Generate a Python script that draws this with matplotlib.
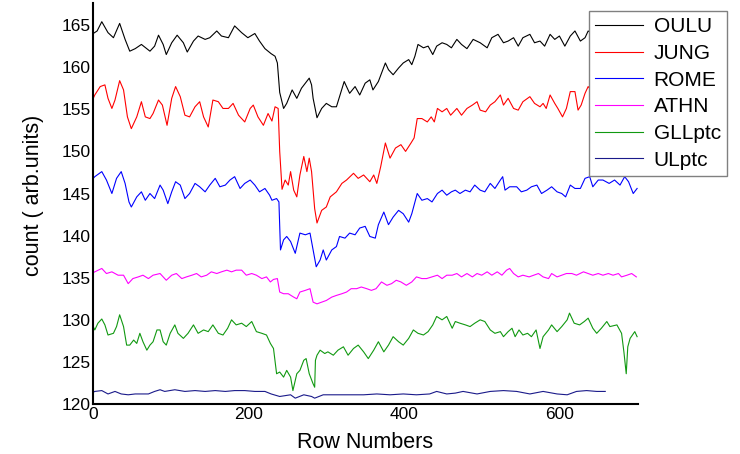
import matplotlib
matplotlib.use("Agg")
import matplotlib.pyplot as plt

plt.rcParams['font.family'] = ['Liberation Sans', 'DejaVu Sans']

# values (row number, count)
oulu_x = [0, 5, 11, 19, 26, 34, 41, 47, 54, 62, 73, 79, 84, 90, 94, 101, 108, 116, 121, 129, 135, 144, 150, 159,
          165, 174, 182, 191, 199, 208, 214, 221, 229, 234, 237, 240, 245, 249, 256, 262, 268, 278, 281, 283, 288,
          294, 300, 307, 313, 317, 323, 330, 337, 343, 350, 356, 360, 367, 376, 380, 386, 393, 399, 406, 410, 414,
          418, 425, 431, 437, 442, 449, 455, 461, 468, 474, 481, 489, 498, 507, 513, 521, 528, 534, 541, 547, 553,
          562, 568, 575, 581, 588, 594, 600, 607, 614, 620, 627, 633, 637, 645, 655, 665, 675, 685, 695, 700]
oulu_y = [164.0, 164.3, 165.4, 164.1, 163.5, 165.2, 163.3, 161.9, 162.2, 162.7, 161.9, 162.5, 163.8, 162.7, 161.5,
          162.9, 163.8, 162.9, 161.8, 163.1, 163.7, 163.3, 163.5, 164.3, 163.7, 163.5, 164.9, 164.1, 163.5, 164.0,
          163.1, 162.2, 161.6, 161.3, 160.5, 157.0, 155.1, 155.7, 157.3, 156.3, 157.5, 158.7, 157.9, 156.3, 154.0,
          155.1, 155.7, 155.3, 155.3, 156.5, 158.3, 156.9, 157.7, 156.7, 158.1, 158.5, 157.3, 158.3, 160.5, 159.7,
          159.1, 159.9, 160.5, 160.9, 160.3, 161.3, 162.7, 162.3, 162.5, 161.5, 162.5, 162.9, 162.7, 162.3, 163.3,
          162.7, 162.2, 163.3, 162.9, 162.3, 163.5, 163.9, 162.9, 163.1, 163.5, 162.5, 163.5, 163.9, 162.9, 163.1,
          162.5, 163.9, 163.3, 163.7, 162.5, 163.7, 164.3, 163.1, 163.5, 164.3, 163.8, 164.0, 163.6, 164.1, 163.8,
          164.0, 163.9]

jung_x = [0, 2, 9, 15, 19, 24, 28, 34, 39, 44, 49, 56, 62, 67, 73, 77, 84, 89, 95, 101, 106, 112, 118, 124, 131,
          137, 142, 148, 154, 161, 167, 174, 180, 187, 195, 202, 206, 212, 219, 225, 230, 234, 238, 240, 243, 247,
          251, 254, 258, 262, 266, 271, 275, 278, 281, 285, 288, 294, 300, 305, 313, 320, 326, 335, 341, 348, 356,
          361, 365, 370, 376, 382, 389, 396, 402, 409, 413, 417, 423, 430, 435, 439, 443, 449, 455, 460, 468, 474,
          481, 488, 494, 498, 505, 511, 517, 524, 528, 534, 541, 547, 553, 562, 568, 575, 579, 583, 588, 594, 598,
          604, 609, 614, 620, 624, 628, 633, 637, 645, 655, 665, 675, 685, 695, 700]
jung_y = [156.3, 156.7, 157.7, 157.9, 156.3, 155.1, 156.1, 158.4, 157.3, 154.1, 152.7, 154.1, 155.9, 154.1, 153.9,
          154.5, 156.1, 155.5, 153.1, 156.3, 157.7, 156.5, 154.3, 154.1, 155.3, 155.9, 154.1, 152.9, 156.1, 155.9,
          155.1, 155.1, 155.7, 154.3, 153.5, 155.1, 155.5, 154.1, 153.1, 154.5, 153.6, 155.3, 155.1, 150.0, 145.5,
          146.6, 146.0, 147.6, 145.4, 144.6, 147.2, 149.4, 147.6, 149.2, 147.6, 143.2, 141.5, 143.0, 143.4, 144.6,
          145.2, 146.2, 146.6, 147.4, 146.8, 147.2, 146.4, 147.2, 146.2, 148.2, 151.0, 149.2, 150.4, 150.8, 150.0,
          151.0, 151.6, 153.9, 153.9, 153.5, 154.1, 153.5, 155.1, 154.7, 155.1, 154.3, 155.1, 154.3, 155.1, 155.5,
          155.9, 154.9, 154.7, 155.5, 155.9, 156.7, 155.5, 156.3, 155.1, 154.9, 155.9, 156.5, 155.7, 155.3, 155.7,
          155.1, 156.7, 155.7, 155.1, 154.1, 155.1, 157.1, 157.1, 154.9, 155.5, 156.9, 157.7, 156.8, 157.0, 156.5,
          156.9, 156.6, 157.0, 156.8]

rome_x = [0, 2, 11, 17, 24, 30, 36, 41, 46, 49, 56, 62, 67, 73, 79, 86, 90, 96, 101, 106, 112, 118, 124, 131, 137,
          144, 150, 157, 163, 170, 176, 182, 189, 195, 202, 208, 214, 221, 227, 230, 236, 239, 241, 245, 249, 254,
          260, 266, 273, 279, 283, 287, 292, 296, 300, 307, 313, 317, 324, 330, 337, 343, 350, 356, 363, 367, 374,
          380, 386, 393, 399, 406, 410, 417, 423, 430, 436, 443, 449, 455, 461, 466, 472, 479, 485, 491, 498, 504,
          511, 517, 524, 527, 530, 536, 545, 551, 558, 564, 571, 577, 584, 590, 597, 603, 608, 614, 620, 627, 633,
          639, 643, 650, 656, 664, 671, 678, 684, 689, 695, 700]
rome_y = [146.8, 147.0, 147.6, 146.6, 145.0, 146.8, 147.6, 146.2, 144.0, 143.4, 144.6, 145.2, 144.2, 145.0, 144.4,
          146.0, 145.4, 143.8, 145.2, 146.4, 146.0, 144.4, 145.0, 146.2, 145.8, 145.2, 146.0, 146.8, 145.8, 146.0,
          146.6, 147.0, 145.6, 146.2, 146.6, 146.0, 145.2, 145.6, 144.8, 144.2, 144.4, 144.0, 138.3, 139.5, 139.9,
          139.3, 137.9, 140.3, 140.1, 140.3, 138.3, 136.3, 137.1, 138.3, 137.1, 138.3, 138.7, 139.9, 139.7, 140.3,
          140.1, 140.9, 141.1, 139.9, 139.7, 141.3, 142.8, 141.3, 142.2, 143.0, 142.6, 141.6, 142.6, 145.0, 144.2,
          144.4, 144.0, 145.0, 145.4, 144.8, 145.2, 145.4, 145.0, 145.4, 145.2, 146.0, 145.4, 145.2, 146.2, 145.6,
          146.6, 147.0, 145.4, 145.8, 145.8, 145.2, 145.4, 145.8, 146.0, 145.0, 145.4, 145.8, 145.2, 145.0, 144.6,
          146.0, 145.6, 145.6, 146.8, 147.0, 145.8, 146.6, 146.6, 146.2, 146.6, 146.0, 147.0, 146.4, 145.0, 145.6]

athn_x = [0, 2, 11, 17, 24, 32, 39, 45, 51, 58, 64, 71, 77, 86, 94, 101, 107, 114, 120, 127, 133, 139, 146, 152,
          159, 165, 172, 178, 184, 191, 197, 204, 210, 217, 223, 228, 232, 237, 240, 245, 251, 258, 262, 266, 273,
          279, 283, 288, 294, 300, 307, 313, 320, 326, 332, 339, 345, 352, 358, 364, 371, 378, 384, 390, 396, 403,
          410, 416, 423, 429, 436, 443, 449, 455, 462, 468, 474, 481, 488, 494, 500, 507, 513, 520, 526, 532, 536,
          541, 547, 553, 561, 567, 573, 579, 586, 590, 597, 603, 609, 616, 622, 631, 637, 643, 650, 656, 663, 669,
          676, 680, 687, 693, 699]
athn_y = [135.6, 135.7, 136.1, 135.5, 135.7, 135.3, 135.3, 134.3, 134.9, 135.1, 135.3, 134.9, 135.3, 135.5, 134.7,
          135.3, 135.5, 134.9, 135.1, 135.3, 135.5, 135.1, 135.3, 135.7, 135.5, 135.7, 135.9, 135.7, 135.9, 135.9,
          135.3, 135.5, 135.3, 134.9, 135.1, 134.5, 134.8, 134.9, 133.3, 133.1, 133.1, 132.7, 132.5, 133.3, 133.5,
          133.7, 132.1, 131.9, 132.1, 132.3, 132.7, 132.9, 133.1, 133.3, 133.7, 133.7, 133.9, 133.7, 133.5, 133.7,
          134.5, 134.1, 134.3, 134.7, 134.5, 134.1, 134.5, 135.1, 134.9, 134.9, 135.1, 135.3, 134.9, 135.3, 135.3,
          135.5, 135.1, 135.5, 135.1, 135.5, 135.3, 135.7, 135.3, 135.7, 135.3, 135.9, 136.1, 135.5, 135.1, 135.3,
          135.1, 135.3, 135.5, 135.1, 134.9, 135.5, 135.1, 135.3, 135.5, 135.5, 135.3, 135.7, 135.5, 135.3, 135.5,
          135.3, 135.5, 135.3, 135.5, 135.1, 135.3, 135.5, 135.1]

gll_x = [0, 2, 6, 11, 15, 19, 26, 30, 34, 39, 43, 47, 52, 56, 60, 64, 69, 73, 77, 82, 86, 90, 94, 99, 105, 109, 116,
         122, 129, 135, 142, 148, 154, 161, 167, 173, 178, 184, 191, 197, 204, 210, 217, 223, 228, 232, 236, 240,
         245, 249, 254, 257, 262, 266, 271, 274, 278, 283, 285, 286, 288, 292, 298, 302, 309, 315, 322, 328, 335,
         341, 348, 354, 361, 367, 374, 380, 386, 393, 399, 406, 412, 418, 425, 431, 437, 442, 449, 455, 462, 466,
         472, 479, 485, 491, 498, 504, 511, 517, 524, 528, 534, 539, 543, 548, 553, 559, 564, 570, 575, 579, 586,
         590, 597, 603, 610, 613, 619, 626, 632, 637, 643, 648, 654, 661, 665, 674, 680, 683, 686, 688, 691, 697,
         700]
gll_y = [129.2, 128.8, 129.6, 130.1, 129.4, 128.2, 128.4, 129.2, 130.6, 129.2, 127.0, 127.0, 127.6, 127.2, 128.4,
         127.4, 126.4, 127.0, 127.4, 128.8, 128.8, 127.4, 127.0, 128.4, 129.4, 128.4, 127.8, 128.4, 129.4, 128.4,
         128.8, 128.6, 129.4, 128.4, 128.2, 129.0, 130.0, 129.4, 129.6, 129.2, 129.8, 128.6, 128.4, 128.2, 127.2,
         126.6, 123.6, 123.8, 123.2, 124.0, 123.2, 121.6, 123.6, 124.0, 125.2, 125.4, 123.6, 122.4, 122.0, 125.2,
         125.8, 126.4, 126.0, 126.2, 125.8, 126.4, 126.8, 125.8, 126.6, 127.0, 126.2, 125.4, 126.4, 127.4, 126.2,
         127.0, 128.0, 127.4, 127.0, 127.8, 128.8, 128.4, 128.2, 128.6, 129.4, 130.4, 130.0, 130.4, 129.0, 129.8,
         129.6, 129.4, 129.2, 129.6, 130.0, 129.8, 128.8, 128.4, 128.6, 128.0, 128.6, 129.0, 128.0, 128.8, 128.2,
         128.4, 128.0, 128.8, 126.6, 128.0, 128.8, 129.4, 128.6, 129.2, 130.0, 130.8, 129.6, 129.4, 129.8, 130.2,
         129.0, 128.4, 129.0, 129.8, 129.2, 129.4, 128.4, 126.2, 123.6, 126.8, 127.8, 128.6, 128.0]

ul_x = [0, 2, 11, 19, 28, 36, 45, 54, 62, 71, 79, 86, 92, 105, 118, 131, 144, 157, 170, 182, 195, 208, 221, 229,
        240, 254, 260, 271, 281, 285, 296, 313, 330, 348, 365, 382, 399, 416, 433, 442, 455, 466, 476, 494, 511,
        528, 545, 562, 579, 597, 610, 622, 635, 648, 659]
ul_y = [121.4, 121.5, 121.6, 121.2, 121.5, 121.2, 121.1, 121.2, 121.2, 121.2, 121.5, 121.7, 121.5, 121.7, 121.5,
        121.6, 121.5, 121.6, 121.5, 121.6, 121.6, 121.5, 121.5, 121.2, 120.9, 121.1, 120.7, 121.1, 120.9, 120.7,
        121.1, 121.1, 121.1, 121.1, 121.2, 121.1, 121.2, 121.1, 121.2, 121.5, 121.2, 121.3, 121.5, 121.2, 121.5,
        121.6, 121.5, 121.2, 121.5, 121.2, 121.1, 121.5, 121.6, 121.5, 121.5]

names = ['OULU', 'JUNG', 'ROME', 'ATHN', 'GLLptc', 'ULptc']
colors = ['#000000', '#ff0000', '#0000ff', '#ff00ff', '#119911', '#1a1a8a']
xs = [oulu_x, jung_x, rome_x, athn_x, gll_x, ul_x]
ys = [oulu_y, jung_y, rome_y, athn_y, gll_y, ul_y]

fig = plt.figure(figsize=(7.4, 4.54), dpi=100)
ax = fig.add_axes([0.126, 0.11, 0.736, 0.883])

for x, y, c, n in zip(xs, ys, colors, names):
    ax.plot(x, y, color=c, lw=0.8, label=n)

ax.set_xlim(0, 701)
ax.set_ylim(120, 167.6)
ax.set_xticks([0, 200, 400, 600])
ax.set_yticks([120, 125, 130, 135, 140, 145, 150, 155, 160, 165])
ax.tick_params(length=0, labelsize=12.5, pad=2)
for s in ['top', 'right']:
    ax.spines[s].set_visible(False)
for s in ['left', 'bottom']:
    ax.spines[s].set_linewidth(1.5)

ax.set_xlabel('Row Numbers', fontsize=15.5)
ax.xaxis.set_label_coords(0.5, -0.095)
ax.xaxis.label.set_va('center')
ax.set_ylabel('count ( arb.units)', fontsize=15.5)
ax.yaxis.set_label_coords(-0.11, 0.52)
ax.yaxis.label.set_va('center')

leg = ax.legend(loc='upper right', bbox_to_anchor=(727 / 740, 1 - 11 / 454),
                bbox_transform=fig.transFigure, fontsize=15, frameon=True, fancybox=False,
                borderaxespad=0, handlelength=2.3, labelspacing=0.37, borderpad=0.3,
                handletextpad=0.5)
leg.get_frame().set_edgecolor('#808080')
leg.get_frame().set_linewidth(1.0)
leg.get_frame().set_alpha(1)

fig.savefig('out.png', dpi=100)
